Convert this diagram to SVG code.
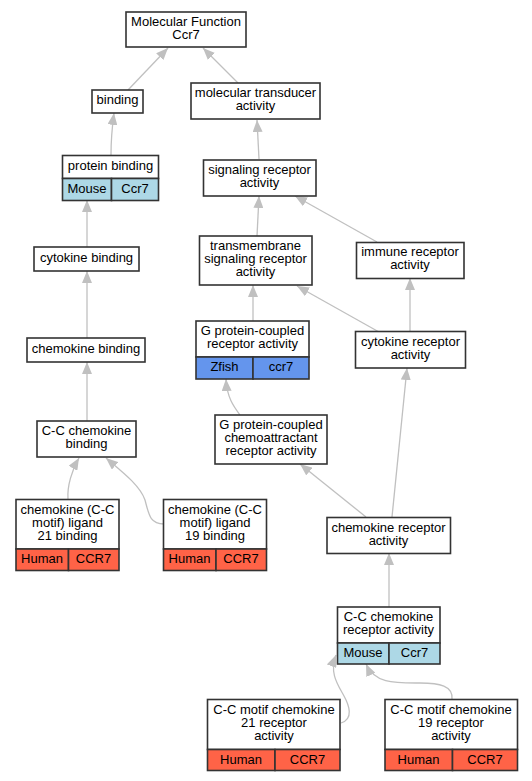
<svg xmlns="http://www.w3.org/2000/svg" width="532" height="781" viewBox="0 0 532 781">
<style>
.b{fill:#fff;stroke:#333;stroke-width:1.6}
.m{fill:#add8e6;stroke:#333;stroke-width:1.6}
.z{fill:#6495ed;stroke:#333;stroke-width:1.6}
.h{fill:#ff6347;stroke:#333;stroke-width:1.6}
text{font-family:"Liberation Sans",Arial,sans-serif;font-size:13px;fill:#000;text-anchor:middle}
.e{fill:none;stroke:#c0c0c0;stroke-width:1.3}
</style>
<defs>
<marker id="a" markerUnits="userSpaceOnUse" markerWidth="13" markerHeight="10" refX="12" refY="5" orient="auto">
<path d="M0,0 L12,5 L0,10 z" fill="#c0c0c0"/>
</marker>
</defs>
<rect width="532" height="781" fill="#fff"/>
<g id="edges">
<path class="e" marker-end="url(#a)" d="M128,90 L168,48"/>
<path class="e" marker-end="url(#a)" d="M238,83 L203,48"/>
<path class="e" marker-end="url(#a)" d="M111,155 C111,140 112,128 114,113"/>
<path class="e" marker-end="url(#a)" d="M259,159 L257,120"/>
<path class="e" marker-end="url(#a)" d="M87,247 L87,200"/>
<path class="e" marker-end="url(#a)" d="M257,236 L259,196"/>
<path class="e" marker-end="url(#a)" d="M377,242 L295,196"/>
<path class="e" marker-end="url(#a)" d="M87,338 L87,271"/>
<path class="e" marker-end="url(#a)" d="M253,321 L253,285"/>
<path class="e" marker-end="url(#a)" d="M379,332 L297,286"/>
<path class="e" marker-end="url(#a)" d="M410,332 L410,278"/>
<path class="e" marker-end="url(#a)" d="M87,421 L87,362"/>
<path class="e" marker-end="url(#a)" d="M240,415 C234,407 227,398 226,379"/>
<path class="e" marker-end="url(#a)" d="M68,499 C67,486 72,470 79,458"/>
<path class="e" marker-end="url(#a)" d="M164,524 C150,524 149,515 145,500 C140,485 120,470 106,458"/>
<path class="e" marker-end="url(#a)" d="M366,517 L300,464"/>
<path class="e" marker-end="url(#a)" d="M392,517 L407,368"/>
<path class="e" marker-end="url(#a)" d="M389,607 L389,553"/>
<path class="e" marker-end="url(#a)" d="M341,723 C354,719 349,705 344,696 C338,685 329,673 336,655"/>
<path class="e" marker-end="url(#a)" d="M452,699 C453,686 440,683 420,683 C395,683 375,684 366,664"/>
</g>
<g id="n1"><rect class="b" x="126" y="12" width="120" height="35"/><text x="186" y="26">Molecular Function</text><text x="186" y="39">Ccr7</text></g>
<g id="n2"><rect class="b" x="92" y="90" width="51" height="23"/><text x="117.5" y="104">binding</text></g>
<g id="n3"><rect class="b" x="191" y="83" width="129" height="36"/><text x="255.5" y="97">molecular transducer</text><text x="255.5" y="110">activity</text></g>
<g id="n4"><rect class="b" x="62.5" y="155.5" width="96" height="23"/><rect class="m" x="62.5" y="178.5" width="49" height="22"/><rect class="m" x="111.5" y="178.5" width="47" height="22"/><text x="110.5" y="170">protein binding</text><text x="87" y="193">Mouse</text><text x="135" y="193">Ccr7</text></g>
<g id="n5"><rect class="b" x="203.5" y="160" width="112.5" height="36"/><text x="259.5" y="174">signaling receptor</text><text x="259.5" y="187">activity</text></g>
<g id="n6"><rect class="b" x="34" y="247" width="105" height="24"/><text x="86.5" y="262">cytokine binding</text></g>
<g id="n7"><rect class="b" x="199.5" y="236" width="112.5" height="49"/><text x="255.5" y="250">transmembrane</text><text x="255.5" y="263">signaling receptor</text><text x="255.5" y="276">activity</text></g>
<g id="n8"><rect class="b" x="356.5" y="242.5" width="107.5" height="36"/><text x="410" y="256">immune receptor</text><text x="410" y="269">activity</text></g>
<g id="n9"><rect class="b" x="196" y="321" width="113" height="36"/><rect class="z" x="196" y="357" width="57" height="22"/><rect class="z" x="253" y="357" width="56" height="22"/><text x="252.5" y="335">G protein-coupled</text><text x="252.5" y="348">receptor activity</text><text x="224.5" y="371">Zfish</text><text x="281" y="371">ccr7</text></g>
<g id="n10"><rect class="b" x="355.5" y="331.5" width="110" height="36.5"/><text x="410.5" y="345.5">cytokine receptor</text><text x="410.5" y="358.5">activity</text></g>
<g id="n11"><rect class="b" x="27" y="338" width="118" height="24"/><text x="86" y="353">chemokine binding</text></g>
<g id="n12"><rect class="b" x="37" y="421" width="99" height="36"/><text x="86.5" y="435">C-C chemokine</text><text x="86.5" y="448">binding</text></g>
<g id="n13"><rect class="b" x="215" y="415" width="112" height="49"/><text x="271" y="429">G protein-coupled</text><text x="271" y="442">chemoattractant</text><text x="271" y="455">receptor activity</text></g>
<g id="n14"><rect class="b" x="16" y="499.5" width="103" height="49.5"/><rect class="h" x="16" y="549" width="52.5" height="21.5"/><rect class="h" x="68.5" y="549" width="50.5" height="21.5"/><text x="67.5" y="513.5">chemokine (C-C</text><text x="67.5" y="526.5">motif) ligand</text><text x="67.5" y="539.5">21 binding</text><text x="42" y="563">Human</text><text x="93.5" y="563">CCR7</text></g>
<g id="n15"><rect class="b" x="163.5" y="499.5" width="103" height="49.5"/><rect class="h" x="163.5" y="549" width="52.5" height="21.5"/><rect class="h" x="216" y="549" width="50.5" height="21.5"/><text x="215" y="513.5">chemokine (C-C</text><text x="215" y="526.5">motif) ligand</text><text x="215" y="539.5">19 binding</text><text x="189.5" y="563">Human</text><text x="241" y="563">CCR7</text></g>
<g id="n16"><rect class="b" x="327" y="517.5" width="123.5" height="36"/><text x="388.5" y="531.5">chemokine receptor</text><text x="388.5" y="544.5">activity</text></g>
<g id="n17"><rect class="b" x="337.5" y="607" width="102.5" height="36"/><rect class="m" x="337.5" y="643" width="51.5" height="21"/><rect class="m" x="389" y="643" width="51" height="21"/><text x="388.5" y="621">C-C chemokine</text><text x="388.5" y="634">receptor activity</text><text x="363" y="657">Mouse</text><text x="414.5" y="657">Ccr7</text></g>
<g id="n18"><rect class="b" x="207.5" y="699.5" width="132.5" height="50"/><rect class="h" x="207.5" y="749.5" width="67.5" height="21"/><rect class="h" x="275" y="749.5" width="65" height="21"/><text x="274" y="714">C-C motif chemokine</text><text x="274" y="727">21 receptor</text><text x="274" y="740">activity</text><text x="241" y="763.5">Human</text><text x="307.5" y="763.5">CCR7</text></g>
<g id="n19"><rect class="b" x="385" y="699.5" width="132.5" height="50"/><rect class="h" x="385" y="749.5" width="67.5" height="21"/><rect class="h" x="452.5" y="749.5" width="65" height="21"/><text x="451" y="714">C-C motif chemokine</text><text x="451" y="727">19 receptor</text><text x="451" y="740">activity</text><text x="418.5" y="763.5">Human</text><text x="485" y="763.5">CCR7</text></g>
</svg>
